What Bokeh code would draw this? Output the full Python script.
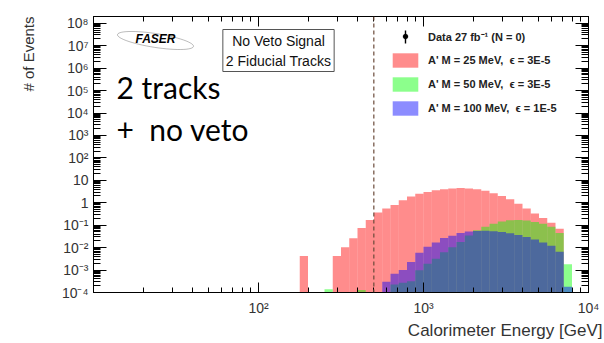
import numpy as np
from bokeh.plotting import figure
from bokeh.models import (Range1d, LogAxis, FixedTicker, CustomJSTickFormatter, Span, Label,
                          Legend, LegendItem, PolyAnnotation, BoxAnnotation, ColumnDataSource,
                          Title)
from bokeh.embed import file_html
from bokeh.resources import INLINE

# ---------------- data ----------------
bin_first_exp = 2.25   # log10(E/GeV) of first bin lower edge
bin_width_exp = 0.05   # log10 bin width

# A' M = 25 MeV, eps = 3E-5
mass25 = [4.2e-3, 0, 0, 0, 4.2e-3, 0.0105, 0.026, 0.075, 0.17, 0.37, 0.56, 0.80, 1.3,
          1.9, 2.5, 3.0, 3.6, 4.0, 4.3, 4.5, 4.3, 4.0, 3.4, 2.65, 2.0, 1.45, 0.9, 0.55,
          0.33, 0.21, 0.13, 0.07, 0]
# A' M = 50 MeV, eps = 3E-5
mass50 = [0, 0, 0, 1.4e-4, 0, 0, 0, 1.3e-4, 0, 0, 0, 2.3e-4, 2.7e-4,
          3.2e-4, 9.7e-4, 1.9e-3, 3.2e-3, 6.3e-3, 0.0105, 0.018, 0.035, 0.06, 0.085, 0.115,
          0.145, 0.165, 0.17, 0.16, 0.14, 0.115, 0.085, 0.045, 1.8e-3]
# A' M = 100 MeV, eps = 1E-5
mass100 = [0, 0, 0, 0, 0, 0, 0, 0, 0, 0, 3e-4, 6.9e-4, 1.0e-3,
           2.3e-3, 5.9e-3, 0.011, 0.017, 0.027, 0.034, 0.045, 0.052, 0.055, 0.056, 0.054,
           0.05, 0.044, 0.037, 0.03, 0.023, 0.017, 0.012, 0.0065, 1.8e-4]

series_labels = ["A' M = 25 MeV,  \u03f5 = 3E-5",
                 "A' M = 50 MeV,  \u03f5 = 3E-5",
                 "A' M = 100 MeV,  \u03f5 = 1E-5"]
series_colors = ["#ff0000", "#00ff00", "#0000ff"]
data_label = "Data 27 fb\u207b\u00b9 (N = 0)"
energy_cut = 500.0

x_major = [1e2, 1e3, 1e4]
x_minor = [k * 10.0 ** d for d in (1, 2, 3) for k in range(2, 10)]
y_major = [10.0 ** e for e in range(-4, 9)]
y_minor = [k * 10.0 ** d for d in range(-4, 9) for k in range(2, 10)]

# ---------------- figure ----------------
p = figure(width=604, height=343, x_axis_type="log", y_axis_type="log",
           x_range=Range1d(10, 1e4), y_range=Range1d(1e-4, 2.0e8),
           output_backend="svg", toolbar_location=None,
           min_border_left=93, min_border_right=16, min_border_top=16, min_border_bottom=49)
p.xgrid.visible = False
p.ygrid.visible = False
p.outline_line_color = "black"
p.background_fill_color = "white"
p.border_fill_color = "white"

sup_code = """
const sup = {"-": "\u207b", "0": "\u2070", "1": "\u00b9", "2": "\u00b2", "3": "\u00b3",
             "4": "\u2074", "5": "\u2075", "6": "\u2076", "7": "\u2077", "8": "\u2078", "9": "\u2079"};
const e = Math.round(Math.log10(tick));
if (e === 0) { return "1"; }
if (e === 1) { return "10"; }
return "10" + String(e).split("").map(c => sup[c]).join("");
"""
fmt = CustomJSTickFormatter(code=sup_code)
blank = CustomJSTickFormatter(code="return '';")
xt = FixedTicker(ticks=x_major, minor_ticks=x_minor)
yt = FixedTicker(ticks=y_major, minor_ticks=y_minor)

def style_axis(ax, ticker, formatter, major_len, minor_len, show):
    ax.ticker = ticker
    ax.formatter = formatter
    ax.major_tick_in = major_len
    ax.major_tick_out = 0
    ax.minor_tick_in = minor_len
    ax.minor_tick_out = 0
    ax.axis_line_color = "black"
    ax.major_tick_line_color = "black"
    ax.minor_tick_line_color = "black"
    ax.major_label_text_font = "Liberation Sans"
    ax.major_label_text_font_size = "14px" if show else "0px"
    ax.major_label_text_color = "#333333"

xa = p.xaxis[0]
style_axis(xa, xt, fmt, 10, 5, True)
xa.major_label_standoff = 7
ya = p.yaxis[0]
style_axis(ya, yt, fmt, 13, 7, True)
ya.major_label_standoff = 5

top_ax = LogAxis()
style_axis(top_ax, xt, blank, 10, 5, False)
p.add_layout(top_ax, "above")
right_ax = LogAxis()
style_axis(right_ax, yt, blank, 13, 7, False)
p.add_layout(right_ax, "right")

# axis titles (ROOT style: aligned to the axis ends)
p.add_layout(Title(text="Calorimeter Energy [GeV]", align="right", offset=-14, standoff=4,
                   vertical_align="top", text_font="Liberation Sans", text_font_style="normal",
                   text_font_size="17px", text_color="#333333"), "below")
p.add_layout(Title(text="# of Events", align="right", offset=0, standoff=39,
                   vertical_align="top", text_font="Liberation Sans", text_font_style="normal",
                   text_font_size="15px", text_color="#333333"), "left")

# ---------------- histograms ----------------
n_bins = len(mass25)
edges = 10 ** (bin_first_exp + bin_width_exp * np.arange(n_bins + 1))
renderers = []
for vals, col in zip([mass25, mass50, mass100], series_colors):
    v = np.array(vals, dtype=float)
    m = v > 0
    src = ColumnDataSource(dict(left=edges[:-1][m], right=edges[1:][m], top=v[m],
                                bottom=np.full(m.sum(), 1e-4)))
    r = p.quad(left="left", right="right", top="top", bottom="bottom", source=src,
               fill_color=col, fill_alpha=0.45, line_color=None)
    renderers.append(r)

p.add_layout(Span(location=energy_cut, dimension="height", line_color="#6b4a3a",
                  line_dash="4 3", line_width=1.2))

# ---------------- legend ----------------
r_data = p.scatter(x=[], y=[], marker="circle", size=5, color="black")
items = [LegendItem(label=data_label, renderers=[r_data])]
for lab, r in zip(series_labels, renderers):
    items.append(LegendItem(label=lab, renderers=[r]))
legend = Legend(items=items, location=(296, 175), orientation="vertical",
                glyph_width=32, glyph_height=18, label_height=18, spacing=6,
                label_standoff=7, padding=0, margin=0, border_line_color=None,
                background_fill_alpha=0, label_text_font="Liberation Sans",
                label_text_font_style="bold", label_text_font_size="11px",
                label_text_color="#222222")
p.add_layout(legend)
# data legend marker: vertical error bar and dot
p.add_layout(BoxAnnotation(left=311.3, right=312.7, bottom=249, top=262,
                           left_units="screen", right_units="screen",
                           bottom_units="screen", top_units="screen",
                           fill_color="black", fill_alpha=1, line_color=None))
th = np.linspace(0, 2 * np.pi, 24)
p.add_layout(PolyAnnotation(xs=list(312 + 2.6 * np.cos(th)), ys=list(256 + 2.6 * np.sin(th)),
                            xs_units="screen", ys_units="screen", fill_color="black",
                            fill_alpha=1, line_color="black", line_width=0.5))

# ---------------- texts ----------------
p.add_layout(Label(x=185, y=242, x_units="screen", y_units="screen",
                   text="No Veto Signal\n2 Fiducial Tracks", text_align="center",
                   text_baseline="middle", text_font="Liberation Sans", text_font_size="14px",
                   text_line_height=1.25, text_color="#111111",
                   border_line_color="#555555", border_line_width=1,
                   background_fill_color="white", padding=3))
p.add_layout(Label(x=23, y=206, x_units="screen", y_units="screen", text="2 tracks",
                   text_baseline="alphabetic", text_font="Lato", text_font_size="30px",
                   text_color="black"))
p.add_layout(Label(x=23, y=164, x_units="screen", y_units="screen", text="+\u00a0 no veto",
                   text_baseline="alphabetic", text_font="Lato", text_font_size="30px",
                   text_color="black"))
# FASER logo
th2 = np.linspace(0, 2 * np.pi, 60)
p.add_layout(PolyAnnotation(xs=list(62 + 38 * np.cos(th2)),
                            ys=list(252 + 7 * np.sin(th2) - 0.15 * 38 * np.cos(th2)),
                            xs_units="screen", ys_units="screen", fill_alpha=0,
                            line_color="#222222", line_width=1))
p.add_layout(Label(x=62, y=254, x_units="screen", y_units="screen", text="FASER",
                   text_align="center", text_baseline="middle", text_font="Liberation Sans",
                   text_font_style="bold italic", text_font_size="12px", text_color="black"))

open("out.html", "w").write(file_html(p, INLINE))
